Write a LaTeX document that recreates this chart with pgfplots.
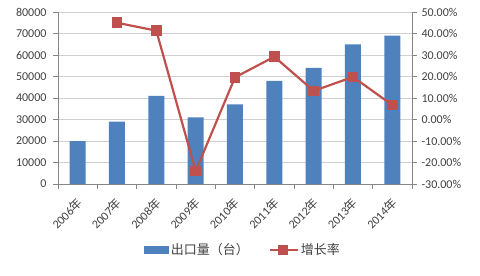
\documentclass[border=0pt]{standalone}
\usepackage{pgfplots}
\pgfplotsset{compat=1.18}
\usepackage{fontspec}
\setmainfont{Carlito}
\newfontfamily\cjk{Noto Sans CJK SC}
\definecolor{barblue}{HTML}{4F81BD}
\definecolor{linered}{HTML}{C0504D}
\definecolor{axgray}{HTML}{868686}
\definecolor{gridgray}{HTML}{D0D0D0}
\definecolor{txt}{HTML}{404040}
\begin{document}
\begin{tikzpicture}[font=\fontsize{12}{14}\selectfont]
\path[use as bounding box] (-58pt,-92pt) rectangle (422pt,184pt);
\begin{axis}[
  at={(0pt,0pt)}, anchor=south west,
  scale only axis, width=354pt, height=172pt,
  xmin=-0.5, xmax=8.5, ymin=0, ymax=80000,
  axis x line*=bottom, axis y line*=left,
  axis line style={axgray, line width=0.6pt},
  ytick={0,10000,20000,30000,40000,50000,60000,70000,80000},
  yticklabels={0,10000,20000,30000,40000,50000,60000,70000,80000},
  ymajorgrids, grid style={gridgray, line width=0.6pt},
  xtick={0,1,2,3,4,5,6,7,8},
  xticklabels={2006{\cjk 年},2007{\cjk 年},2008{\cjk 年},2009{\cjk 年},2010{\cjk 年},2011{\cjk 年},2012{\cjk 年},2013{\cjk 年},2014{\cjk 年}},
  minor xtick={-0.5,0.5,1.5,2.5,3.5,4.5,5.5,6.5,7.5,8.5},
  major x tick style={draw=none},
  minor x tick style={axgray, line width=0.6pt},
  ytick style={axgray, line width=0.6pt},
  tick align=outside, major tick length=5pt, minor tick length=5pt,
  x tick label style={yshift=-11pt, xshift=3pt, rotate=45, anchor=east, inner sep=1pt, font=\fontsize{12}{14}\selectfont, text=txt},
  y tick label style={xshift=-3pt, font=\fontsize{12}{14}\selectfont, text=txt},
  scaled y ticks=false,
]
\addplot[ybar, bar width=16pt, fill=barblue, draw=none] coordinates {
  (0,20000) (1,29000) (2,41000) (3,31000) (4,37000) (5,48000) (6,54000) (7,65000) (8,69000)};
\end{axis}
\begin{axis}[
  at={(0pt,0pt)}, anchor=south west,
  scale only axis, width=354pt, height=172pt,
  xmin=-0.5, xmax=8.5, ymin=-30, ymax=50,
  axis y line*=right, axis x line=none,
  axis line style={axgray, line width=0.6pt},
  ytick={-30,-20,-10,0,10,20,30,40,50},
  yticklabels={-30.00\%,-20.00\%,-10.00\%,0.00\%,10.00\%,20.00\%,30.00\%,40.00\%,50.00\%},
  ytick style={axgray, line width=0.6pt},
  tick align=outside, major tick length=5pt,
  y tick label style={xshift=1pt, font=\fontsize{12}{14}\selectfont, text=txt},
  legend style={draw=none, fill=none, at={(0.523,-0.384)}, anchor=center,
    font=\fontsize{13}{15}\selectfont, text=txt},
  legend columns=2,
  /tikz/every even column/.append style={column sep=18pt},
]
\addlegendimage{legend image code/.code={\fill[barblue] (0pt,-3.5pt) rectangle (24pt,3.5pt);}}
\addlegendentry{\cjk 出口量（台）}
\addplot[linered, line width=2.2pt, mark=square*, mark size=4.2pt,
  legend image code/.code={\draw[linered, line width=2pt] (0pt,0pt) -- (28pt,0pt); \fill[linered] (9pt,-4pt) rectangle (17pt,4pt);}]
  coordinates {(1,45.0) (2,41.3) (3,-24.0) (4,19.6) (5,29.2) (6,13.3) (7,19.8) (8,6.7)};
\addlegendentry{\cjk 增长率}
\end{axis}
\end{tikzpicture}
\end{document}
